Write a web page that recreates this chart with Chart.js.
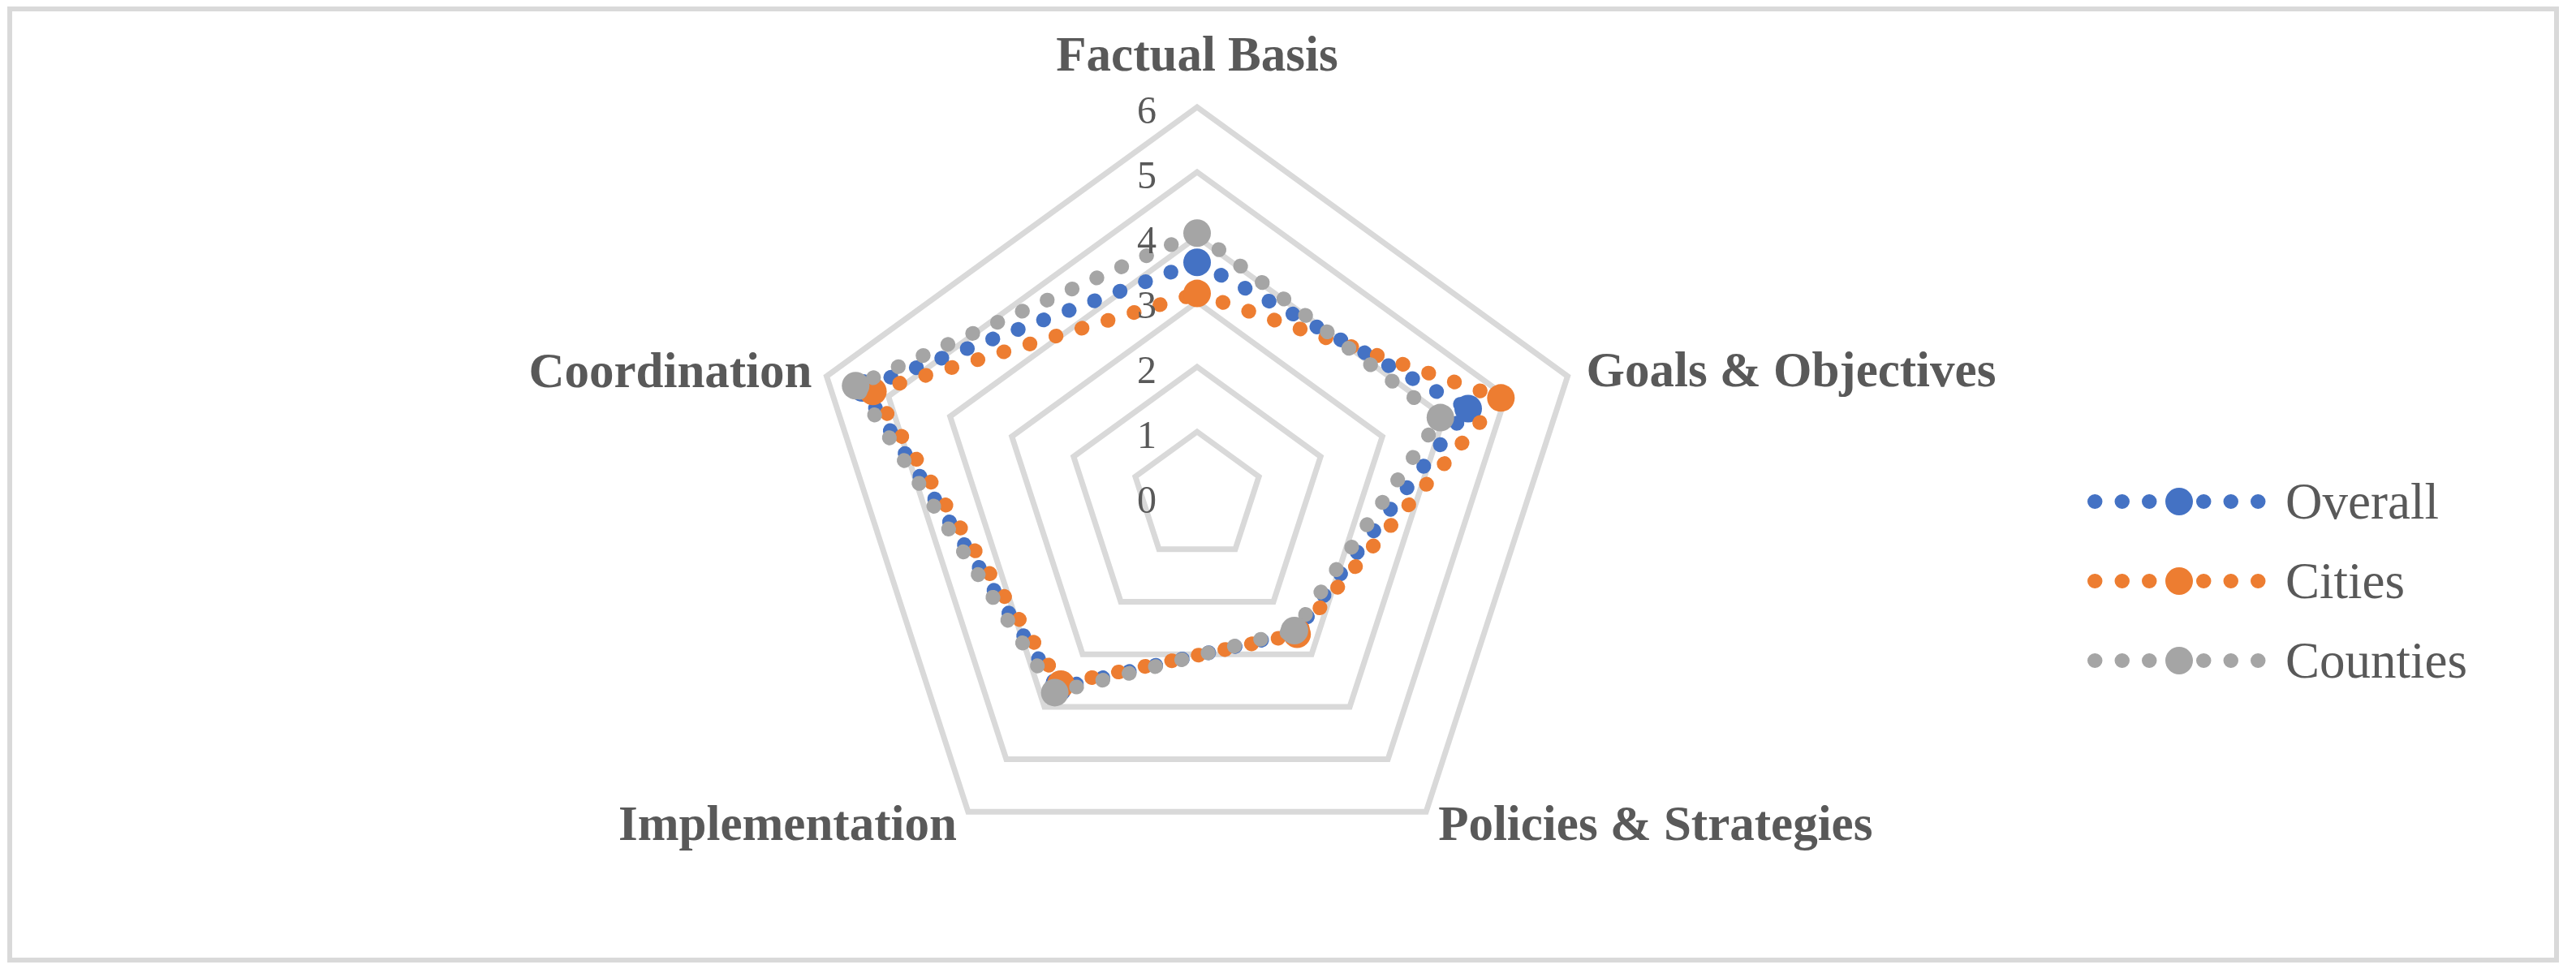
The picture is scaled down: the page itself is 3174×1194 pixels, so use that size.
<!DOCTYPE html>
<html>
<head>
<meta charset="utf-8">
<script src="https://cdn.jsdelivr.net/npm/chart.js@4"></script>
<style>
  html, body { margin: 0; padding: 0; background: #fff; }
  #wrap { position: relative; width: 3174px; height: 1194px; overflow: hidden; }
  #frame { position: absolute; left: 9px; top: 8px; width: 3144px; height: 1178px;
           box-sizing: border-box; border: 6px solid #d9d9d9; }
  #mcnv { position: absolute; left: 0; top: 0; }
</style>
</head>
<body>
<div id="wrap">
  <div id="frame"></div>
  <canvas id="mcnv" width="3174" height="1194"></canvas>
</div>
<script>
var categories = ['Factual Basis', 'Goals & Objectives', 'Policies & Strategies', 'Implementation', 'Coordination'];
var overall  = [3.61, 4.39, 2.58, 3.65, 5.42];
var cities   = [3.13, 4.92, 2.62, 3.57, 5.25];
var counties = [4.06, 3.94, 2.55, 3.73, 5.53];
var tickValues = [0, 1, 2, 3, 4, 5, 6];

var txtColor = '#595959';
var serif = '"Liberation Serif", "DejaVu Serif", serif';

function mkSet(name, vals, color, ord) {
	return {
		label: name,
		data: vals,
		fill: false,
		borderColor: color,
		backgroundColor: color,
		borderWidth: 18,
		borderDash: [0.5, 33],
		borderCapStyle: 'round',
		borderJoinStyle: 'round',
		tension: 0,
		pointRadius: 17,
		pointHoverRadius: 17,
		pointBorderWidth: 0,
		pointBackgroundColor: color,
		order: ord
	};
}

// labels, ticks and legend drawn over the plot
var labelsPlugin = {
	id: 'xlLabels',
	afterDraw: function(chart) {
		var ctx = chart.ctx;
		var sc = chart.scales.r;
		ctx.save();
		ctx.fillStyle = txtColor;

		// tick labels left of the vertical axis
		ctx.font = '48px ' + serif;
		ctx.textAlign = 'center';
		ctx.textBaseline = 'alphabetic';
		for (var t = 0; t < tickValues.length; t++) {
			var d = sc.getDistanceFromCenterForValue(tickValues[t]);
			ctx.fillText(String(tickValues[t]), sc.xCenter - 62, sc.yCenter - d + 20);
		}

		// category labels
		ctx.font = 'bold 61px ' + serif;
		for (var i = 0; i < categories.length; i++) {
			var p = sc.getPointPosition(i, sc.drawingArea);
			var x = p.x, y = p.y;
			if (i === 0) { ctx.textAlign = 'center'; y -= 45; }
			else if (i === 1) { ctx.textAlign = 'left'; x += 23; y += 12; }
			else if (i === 2) { ctx.textAlign = 'left'; x += 15; y += 35; }
			else if (i === 3) { ctx.textAlign = 'right'; x -= 14; y += 35; }
			else { ctx.textAlign = 'right'; x -= 18; y += 13; }
			ctx.fillText(categories[i], x, y);
		}

		// legend
		var ly = [618, 716, 814];
		var ds = chart.data.datasets;
		for (var k = 0; k < ds.length; k++) {
			var yy = ly[k];
			ctx.strokeStyle = ds[k].borderColor;
			ctx.lineWidth = 18;
			ctx.lineCap = 'round';
			ctx.setLineDash([0.5, 33]);
			ctx.beginPath();
			ctx.moveTo(2581, yy);
			ctx.lineTo(2783, yy);
			ctx.stroke();
			ctx.setLineDash([]);
			ctx.fillStyle = ds[k].borderColor;
			ctx.beginPath();
			ctx.arc(2685, yy, 17, 0, Math.PI * 2);
			ctx.fill();
			ctx.fillStyle = txtColor;
			ctx.font = '63px ' + serif;
			ctx.textAlign = 'left';
			ctx.textBaseline = 'alphabetic';
			ctx.fillText(ds[k].label, 2816, yy + 21);
		}
		ctx.restore();
	}
};

var ctx = document.getElementById('mcnv').getContext('2d');
var lgj = new Chart(ctx, {
	type: 'radar',
	data: {
		labels: categories,
		datasets: [
			mkSet('Overall', overall, '#4472C4', 2),
			mkSet('Cities', cities, '#ED7D31', 1),
			mkSet('Counties', counties, '#A5A5A5', 0)
		]
	},
	options: {
		responsive: false,
		animation: false,
		devicePixelRatio: 1,
		layout: { padding: { left: 995, right: 1219, top: 132, bottom: 102 } },
		plugins: { legend: { display: false }, tooltip: { enabled: false } },
		scales: {
			r: {
				min: 0,
				max: 6,
				ticks: { stepSize: 1, display: false },
				grid: { color: '#d9d9d9', lineWidth: 7 },
				angleLines: { display: false },
				pointLabels: { display: false }
			}
		}
	},
	plugins: [labelsPlugin]
});
</script>
</body>
</html>
